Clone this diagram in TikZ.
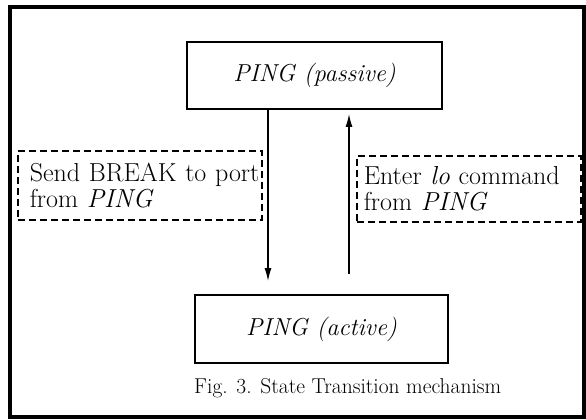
\documentclass[tikz,border=0pt]{standalone}
\usetikzlibrary{arrows.meta}
\begin{document}
\begin{tikzpicture}[x=1pt,y=-1pt,
  statebox/.style={draw, line width=1.8pt, inner sep=0pt,
    font=\fontsize{24.5}{28}\selectfont\itshape},
  notebox/.style={draw, line width=1.6pt, dash pattern=on 7pt off 4pt,
    align=left, inner sep=0pt, anchor=north west,
    font=\fontsize{26}{26}\selectfont},
  link/.style={line width=1.4pt, -{Latex[length=13pt,width=7pt]}}]
\useasboundingbox (0,0) rectangle (586,420);
\node[draw, line width=3.5pt, inner sep=0pt, minimum width=574pt,
  minimum height=410pt] (frame) at (297,212) {};
\node[statebox, minimum width=255pt, minimum height=67pt] (passive)
  at (314.5,75.5) {PING (passive)};
\node[statebox, minimum width=253pt, minimum height=68pt] (active)
  at (321.5,329) {PING (active)};
\node[notebox, text width=244pt, minimum height=69pt]
  (send) at (17,150) {\hspace*{12pt}Send BREAK to port\\ \hspace*{12pt}from \textit{PING}};
\node[notebox, text width=224pt, minimum height=66pt]
  (enter) at (356,155) {\hspace*{7pt}Enter \textit{lo} command\\ \hspace*{7pt}from \textit{PING}};
\draw[link, shorten >=13pt] ([xshift=-46.5pt]passive.south)
  -- ([xshift=-46.5pt]passive.south |- active.north);
\draw[link, shorten <=20pt, shorten >=4pt] ([xshift=27.5pt]active.north)
  -- ([xshift=27.5pt]active.north |- passive.south);
\node[anchor=base west, inner sep=0pt, font=\fontsize{21.5}{24}\selectfont]
  (caption) at (194,393) {Fig. 3. State Transition mechanism};
\end{tikzpicture}
\end{document}
